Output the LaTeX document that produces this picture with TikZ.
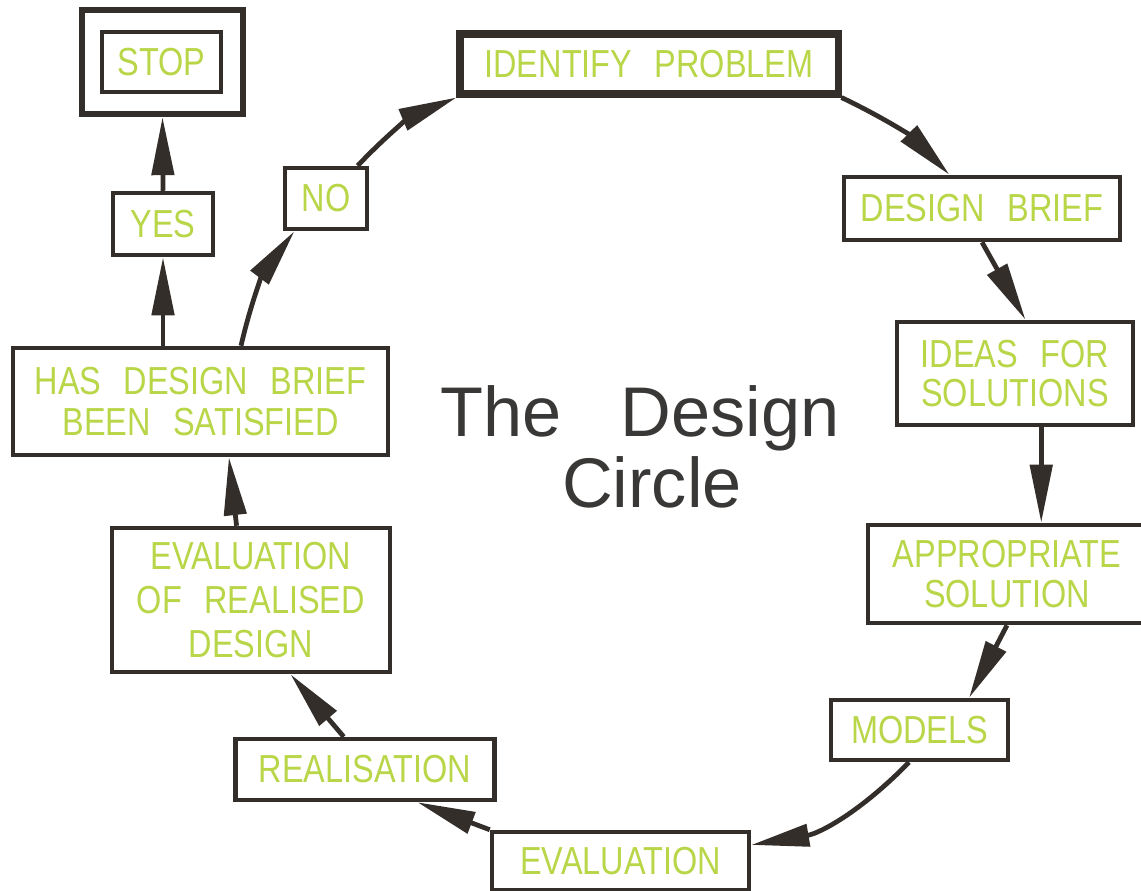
\documentclass[tikz,border=0pt]{standalone}
\usepackage{fontspec}
\setmainfont{Liberation Sans}
\newfontfamily\boxfont[FakeStretch=0.83,WordSpace=2.5]{Liberation Sans}
\newfontfamily\titlefont[WordSpace=3]{Liberation Sans}
\usepackage{tikz}
\usetikzlibrary{arrows.meta}
\definecolor{ink}{RGB}{52,46,43}
\definecolor{leaf}{RGB}{184,214,72}
\definecolor{titlegray}{RGB}{58,56,55}

\begin{document}
\begin{tikzpicture}[x=0.025cm, y=-0.025cm,
	box/.style={draw=ink, line width=3.2pt, fill=white, text=leaf, align=center, inner sep=0pt,
		font={\boxfont\fontsize{27.8}{29}\selectfont}},
	boxsize/.style 2 args={minimum width=#1*0.025cm, minimum height=#2*0.025cm},
	flow/.style={draw=ink, line width=3.4pt, -{Triangle[length=1.45cm, width=0.55cm]}}]
				\useasboundingbox (0,0) rectangle (1141,890);
				\clip (0,0) rectangle (1141,890);

				\node[box, boxsize={161}{104}, line width=4.5pt] (stopframe) at (162.5,62) {};
				\node[box, boxsize={119}{60}, line width=2.6pt] (stop) at (161.5,62) {STOP};
				\node[box, boxsize={100}{62}] (yes) at (163,224) {YES};
				\node[box, boxsize={82}{61}] (no) at (326,198.5) {NO};
				\node[box, boxsize={378}{60}, line width=5pt] (ident) at (649,64) {IDENTIFY PROBLEM};
				\node[box, boxsize={276}{63}] (brief) at (982,208.5) {DESIGN BRIEF};
				\node[box, boxsize={236}{103}] (ideas) at (1015,373.5) {IDEAS FOR\\[-1pt]SOLUTIONS};
				\node[box, boxsize={278}{98}] (approp) at (1007,574) {APPROPRIATE\\[-1pt]SOLUTION};
				\node[box, boxsize={177}{60}] (models) at (919.5,730) {MODELS};
				\node[box, boxsize={257}{58}] (evaluation) at (620.5,861) {EVALUATION};
				\node[box, boxsize={259}{61}] (realisation) at (365,769.5) {REALISATION};
				\node[box, boxsize={278}{144}] (evalreal) at (251,600) {EVALUATION\\[2pt]OF REALISED\\[2pt]DESIGN};
				\node[box, boxsize={375}{107}] (has) at (200.5,401.5) {HAS DESIGN BRIEF\\BEEN SATISFIED};

				\node[text=titlegray, align=center, anchor=base, font={\titlefont\fontsize{50}{50}\selectfont}] (title) at (640,507) {The Design\\\hspace*{0.6cm}Circle};

				\draw[flow] (no.46) to[bend left=12] (ident.south west);
				\draw[flow] (ident.south east) to[bend left=10] (brief.134);
				\draw[flow] (brief.south) -- (ideas.79);
				\draw[flow] (ideas.-64) -- (ideas.-64 |- approp.north);
				\draw[flow] (approp.south) -- (models.33);
				\draw[flow] (models.-108) to[bend left=18] (evaluation.7);
				\draw[flow] (evaluation.north west) -- (realisation.-32);
				\draw[flow] (realisation.123) -- (evalreal.-62);
				\draw[flow] (evalreal.101) -- (has.-63);
				\draw[flow] (has.54) to[bend left=12] (no.-134);
				\draw[flow] (has.north -| yes.south) -- (yes.south);
				\draw[flow] (yes.north) -- (stopframe.south);
			\end{tikzpicture}
\end{document}
